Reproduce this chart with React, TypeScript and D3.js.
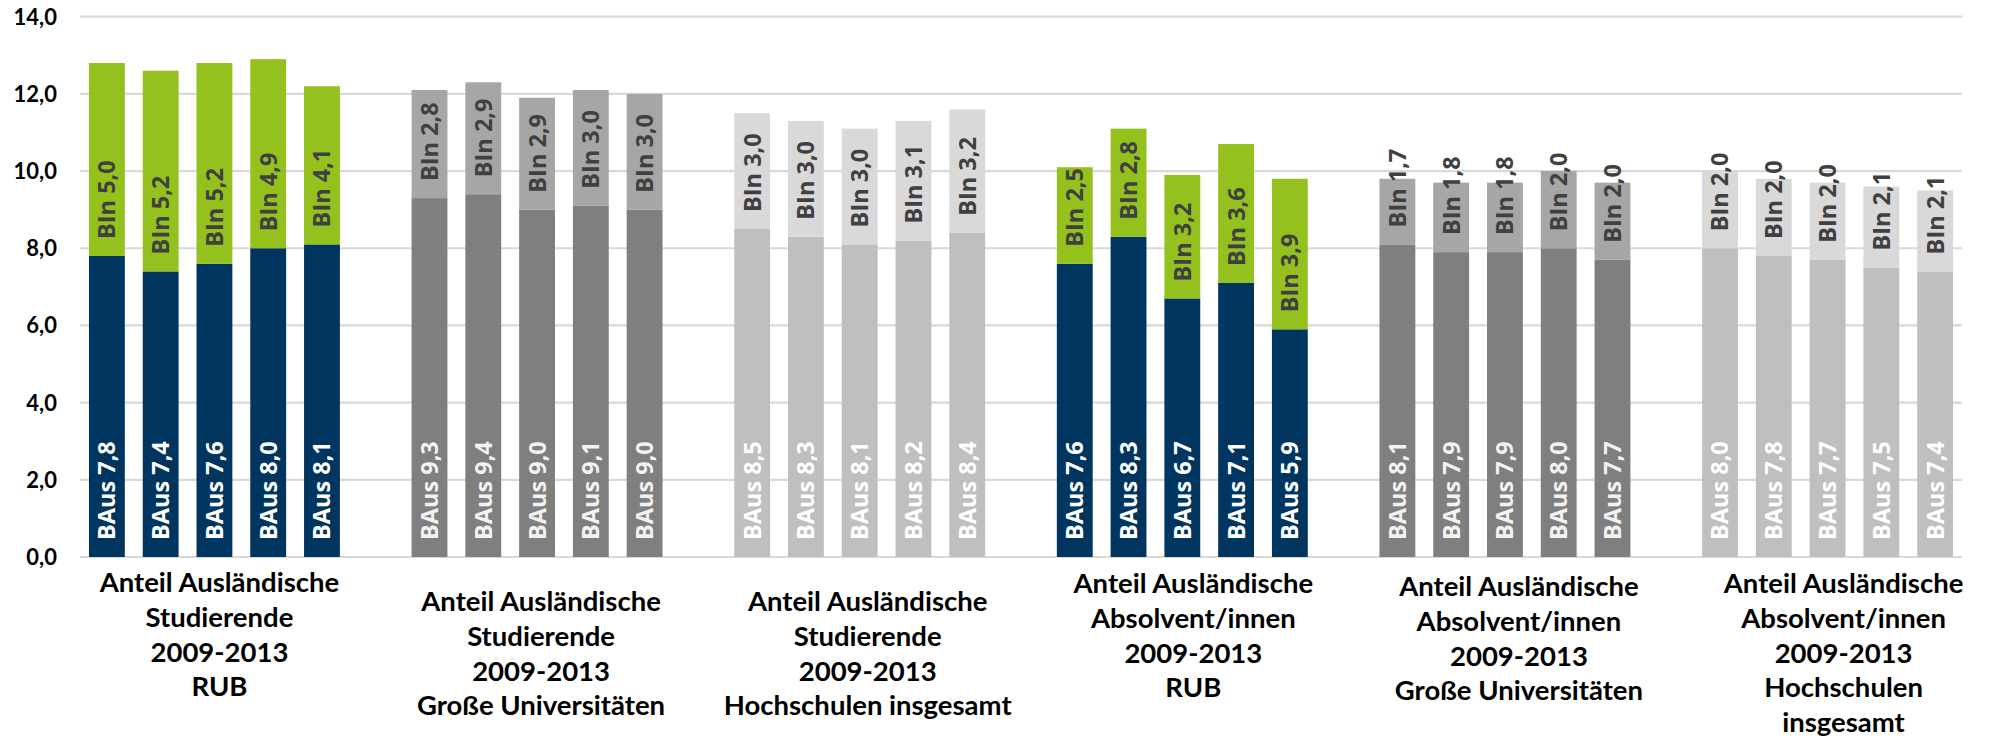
import React from 'react';
import * as d3 from 'd3';

// ---------- data ----------
const years = ['2009', '2010', '2011', '2012', '2013'];

const groupKeys = ['studRUB', 'studGross', 'studGesamt', 'absRUB', 'absGross', 'absGesamt'];

const categoryLabels: string[][] = [
  ['Anteil Ausländische', 'Studierende', '2009-2013', 'RUB'],
  ['Anteil Ausländische', 'Studierende', '2009-2013', 'Große Universitäten'],
  ['Anteil Ausländische', 'Studierende', '2009-2013', 'Hochschulen insgesamt'],
  ['Anteil Ausländische', 'Absolvent/innen', '2009-2013', 'RUB'],
  ['Anteil Ausländische', 'Absolvent/innen', '2009-2013', 'Große Universitäten'],
  ['Anteil Ausländische', 'Absolvent/innen', '2009-2013', 'Hochschulen', 'insgesamt'],
];

// Bildungsausländer (bottom segment)
const bausStudRUB = [7.8, 7.4, 7.6, 8.0, 8.1];
const bausStudGross = [9.3, 9.4, 9.0, 9.1, 9.0];
const bausStudGesamt = [8.5, 8.3, 8.1, 8.2, 8.4];
const bausAbsRUB = [7.6, 8.3, 6.7, 7.1, 5.9];
const bausAbsGross = [8.1, 7.9, 7.9, 8.0, 7.7];
const bausAbsGesamt = [8.0, 7.8, 7.7, 7.5, 7.4];

// Bildungsinländer (top segment)
const binStudRUB = [5.0, 5.2, 5.2, 4.9, 4.1];
const binStudGross = [2.8, 2.9, 2.9, 3.0, 3.0];
const binStudGesamt = [3.0, 3.0, 3.0, 3.1, 3.2];
const binAbsRUB = [2.5, 2.8, 3.2, 3.6, 3.9];
const binAbsGross = [1.7, 1.8, 1.8, 2.0, 2.0];
const binAbsGesamt = [2.0, 2.0, 2.0, 2.1, 2.1];

const yTicks = [0, 2, 4, 6, 8, 10, 12, 14];

const bausSeries = [bausStudRUB, bausStudGross, bausStudGesamt, bausAbsRUB, bausAbsGross, bausAbsGesamt];
const binSeries = [binStudRUB, binStudGross, binStudGesamt, binAbsRUB, binAbsGross, binAbsGesamt];

// ---------- styling / layout ----------
const W = 1989;
const H = 745;
const plotLeft = 80;
const plotRight = 1962;
const yTop = 16.7;
const yBottom = 557;

const bottomColors = ['#003560', '#7F7F7F', '#BFBFBF', '#003560', '#7F7F7F', '#BFBFBF'];
const topColors = ['#95C11F', '#A6A6A6', '#D9D9D9', '#95C11F', '#A6A6A6', '#D9D9D9'];
const bottomTextColors = ['#FFFFFF', '#F2F2F2', '#FFFFFF', '#FFFFFF', '#F2F2F2', '#FFFFFF'];
const topTextColor = '#404040';

const labelFirstBaseline = [592, 611, 611, 593, 596, 593];
const labelShift = [5, 4, 8, 11, 14, 16];
const labelLineHeight = 34.8;

const axisFont = 'Lato, Carlito, Calibri, "Open Sans", sans-serif';
const barFont = '"Open Sans", "Segoe UI", "DejaVu Sans", sans-serif';

const locale = d3.formatLocale({ decimal: ',', thousands: '.', grouping: [3], currency: ['', '€'] });
const fmt = locale.format('.1f');

type Row = { key: string; group: number; year: string; baus: number; bin: number };

const rows: Row[] = [];
const domain: string[] = [];
groupKeys.forEach((gk, g) => {
  years.forEach((yr, j) => {
    const key = `${gk}-${yr}`;
    domain.push(key);
    rows.push({ key, group: g, year: yr, baus: bausSeries[g][j], bin: binSeries[g][j] });
  });
  if (g < groupKeys.length - 1) domain.push(`gap-${g}`);
});

export default function App() {
  const x = d3
    .scaleBand<string>()
    .domain(domain)
    .range([plotLeft, plotRight])
    .paddingInner(1 / 3)
    .paddingOuter(1 / 6);
  const y = d3.scaleLinear().domain([0, 14]).range([yBottom, yTop]);
  const bw = x.bandwidth();

  const stack = d3.stack<Row>().keys(['baus', 'bin']);
  const stacked = stack(rows);

  const labelOffset = 17;

  return (
    <svg
      width={W}
      height={H}
      style={{ position: 'absolute', left: 0, top: 0, background: '#fff' }}
      xmlns="http://www.w3.org/2000/svg"
    >
      {/* gridlines */}
      {yTicks.map((t) => (
        <line
          key={`g${t}`}
          x1={plotLeft}
          x2={plotRight}
          y1={y(t)}
          y2={y(t)}
          stroke="#D9D9D9"
          strokeWidth={2.2}
        />
      ))}
      {/* y tick labels */}
      {yTicks.map((t) => (
        <text
          key={`t${t}`}
          x={57}
          y={y(t)}
          dy="0.36em"
          textAnchor="end"
          fontFamily={axisFont}
          fontWeight={700}
          fontSize={22}
          fill="#000"
        >
          {fmt(t)}
        </text>
      ))}
      {/* bars */}
      {stacked.map((layer, li) =>
        layer.map((d) => {
          const r = d.data;
          const fill = li === 0 ? bottomColors[r.group] : topColors[r.group];
          return (
            <rect
              key={`${layer.key}-${r.key}`}
              x={x(r.key)}
              width={bw}
              y={y(d[1])}
              height={y(d[0]) - y(d[1])}
              fill={fill}
            />
          );
        })
      )}
      {/* bar labels */}
      {stacked.map((layer, li) =>
        layer.map((d) => {
          const r = d.data;
          const cx = (x(r.key) as number) + bw / 2;
          const startY = y(d[0]) - labelOffset;
          const txt = li === 0 ? `BAus ${fmt(r.baus)}` : `BIn ${fmt(r.bin)}`;
          return (
            <text
              key={`l-${layer.key}-${r.key}`}
              transform={`translate(${cx},${startY}) rotate(-90)`}
              dy="0.36em"
              textAnchor="start"
              fontFamily={barFont}
              fontWeight={700}
              fontSize={23.5}
              fill={li === 0 ? bottomTextColors[r.group] : topTextColor}
            >
              {txt}
            </text>
          );
        })
      )}
      {/* category labels */}
      {categoryLabels.map((lines, g) => {
        const midKey = `${groupKeys[g]}-${years[2]}`;
        const cx = (x(midKey) as number) + bw / 2 + labelShift[g];
        return (
          <text
            key={`c${g}`}
            textAnchor="middle"
            fontFamily={axisFont}
            fontWeight={700}
            fontSize={27.5}
            fill="#000"
          >
            {lines.map((ln, i) => (
              <tspan key={i} x={cx} y={labelFirstBaseline[g] + i * labelLineHeight}>
                {ln}
              </tspan>
            ))}
          </text>
        );
      })}
    </svg>
  );
}
